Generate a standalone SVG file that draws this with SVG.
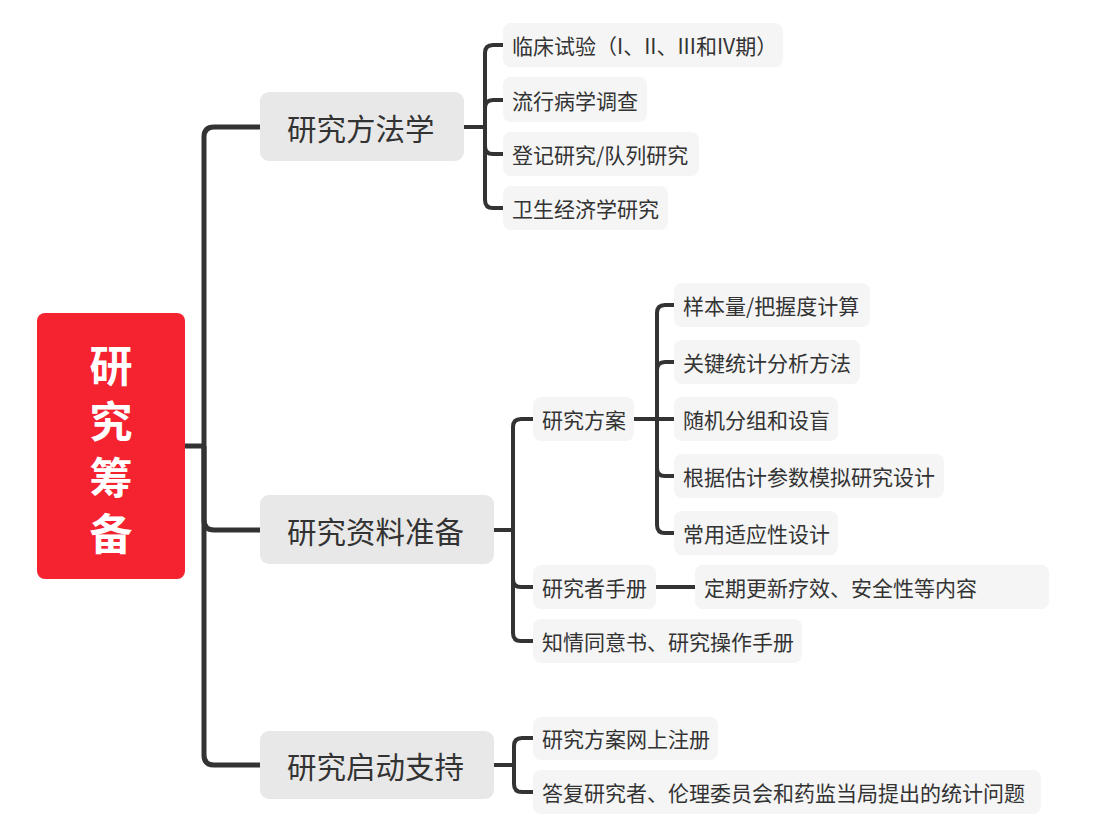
<svg xmlns="http://www.w3.org/2000/svg" width="1094" height="840" viewBox="0 0 1094 840">
<style>
.c{fill:none;stroke:#333333;stroke-linecap:butt;stroke-linejoin:round}
.t1{stroke-width:5}
.t2{stroke-width:4}
.main rect{fill:#E8E8E8}
.sub rect{fill:#F5F5F5}
text{font-family:"Noto Sans CJK SC","Microsoft YaHei",sans-serif;fill:#333333;dominant-baseline:central}
.main text{font-size:29.5px}
.sub text{font-size:21px}
.root text{font-size:43px;font-weight:bold;fill:#FFFFFF;text-anchor:middle}
</style>
<rect width="1094" height="840" fill="#FFFFFF"/>
<g id="connectors">
  <path class="c t1" d="M185,446 H204"/>
  <path class="c t1" d="M204,446 V137 Q204,127 214,127 H260"/>
  <path class="c t1" d="M204,446 V520 Q204,530 214,530 H260"/>
  <path class="c t1" d="M204,446 V755 Q204,765 214,765 H260"/>
  <path class="c t2" d="M464,127 H485"/>
  <path class="c t2" d="M485,127 V53 Q485,45 493,45 H503"/>
  <path class="c t2" d="M485,127 V108 Q485,100 493,100 H503"/>
  <path class="c t2" d="M485,127 V146 Q485,154 493,154 H503"/>
  <path class="c t2" d="M485,127 V200 Q485,208 493,208 H503"/>
  <path class="c t2" d="M494,530 H513"/>
  <path class="c t2" d="M513,530 V427 Q513,419 521,419 H533"/>
  <path class="c t2" d="M513,530 V579 Q513,587 521,587 H533"/>
  <path class="c t2" d="M513,530 V633 Q513,641 521,641 H533"/>
  <path class="c t2" d="M634,419 H657"/>
  <path class="c t2" d="M657,419 V313 Q657,305 665,305 H674"/>
  <path class="c t2" d="M657,419 V370 Q657,362 665,362 H674"/>
  <path class="c t2" d="M657,419 H674"/>
  <path class="c t2" d="M657,419 V468 Q657,476 665,476 H674"/>
  <path class="c t2" d="M657,419 V525 Q657,533 665,533 H674"/>
  <path class="c t2" d="M656,587 H695"/>
  <path class="c t2" d="M494,765 H514"/>
  <path class="c t2" d="M514,765 V746 Q514,738 522,738 H533"/>
  <path class="c t2" d="M514,765 V784 Q514,792 522,792 H533"/>
</g>
<g id="root" class="root">
  <rect x="37" y="313" width="148" height="266" rx="8" fill="#F52230"/>
  <text x="111" y="363">研</text>
  <text x="111" y="419">究</text>
  <text x="111" y="475">筹</text>
  <text x="111" y="531">备</text>
</g>
<g id="n-methods" class="main"><rect x="260" y="92" width="204" height="69" rx="9"/><text x="287" y="127">研究方法学</text></g>
<g id="n-materials" class="main"><rect x="260" y="495" width="234" height="69" rx="9"/><text x="287" y="530">研究资料准备</text></g>
<g id="n-startup" class="main"><rect x="260" y="731" width="234" height="68" rx="9"/><text x="287" y="765">研究启动支持</text></g>
<g id="n-clinical" class="sub"><rect x="503" y="23" width="280" height="44" rx="8"/><text x="512" y="45">临床试验（I、II、III和IV期）</text></g>
<g id="n-epi" class="sub"><rect x="503" y="77" width="144" height="45" rx="8"/><text x="512" y="100">流行病学调查</text></g>
<g id="n-registry" class="sub"><rect x="503" y="132" width="196" height="44" rx="8"/><text x="512" y="154">登记研究/队列研究</text></g>
<g id="n-econ" class="sub"><rect x="503" y="186" width="165" height="44" rx="8"/><text x="512" y="208">卫生经济学研究</text></g>
<g id="n-protocol" class="sub"><rect x="533" y="397" width="101" height="44" rx="8"/><text x="542" y="419">研究方案</text></g>
<g id="n-sample" class="sub"><rect x="674" y="283" width="196" height="44" rx="8"/><text x="683" y="305">样本量/把握度计算</text></g>
<g id="n-keystat" class="sub"><rect x="674" y="340" width="186" height="44" rx="8"/><text x="683" y="362">关键统计分析方法</text></g>
<g id="n-random" class="sub"><rect x="674" y="397" width="164" height="44" rx="8"/><text x="683" y="419">随机分组和设盲</text></g>
<g id="n-sim" class="sub"><rect x="674" y="454" width="270" height="44" rx="8"/><text x="683" y="476">根据估计参数模拟研究设计</text></g>
<g id="n-adaptive" class="sub"><rect x="674" y="511" width="164" height="44" rx="8"/><text x="683" y="533">常用适应性设计</text></g>
<g id="n-ib" class="sub"><rect x="533" y="565" width="123" height="44" rx="8"/><text x="542" y="587">研究者手册</text></g>
<g id="n-ibupdate" class="sub"><rect x="695" y="565" width="354" height="44" rx="8"/><text x="704" y="587">定期更新疗效、安全性等内容</text></g>
<g id="n-consent" class="sub"><rect x="533" y="619" width="269" height="44" rx="8"/><text x="542" y="641">知情同意书、研究操作手册</text></g>
<g id="n-register" class="sub"><rect x="533" y="717" width="185" height="43" rx="8"/><text x="542" y="738">研究方案网上注册</text></g>
<g id="n-answer" class="sub"><rect x="533" y="770" width="508" height="44" rx="8"/><text x="542" y="792">答复研究者、伦理委员会和药监当局提出的统计问题</text></g>
</svg>
